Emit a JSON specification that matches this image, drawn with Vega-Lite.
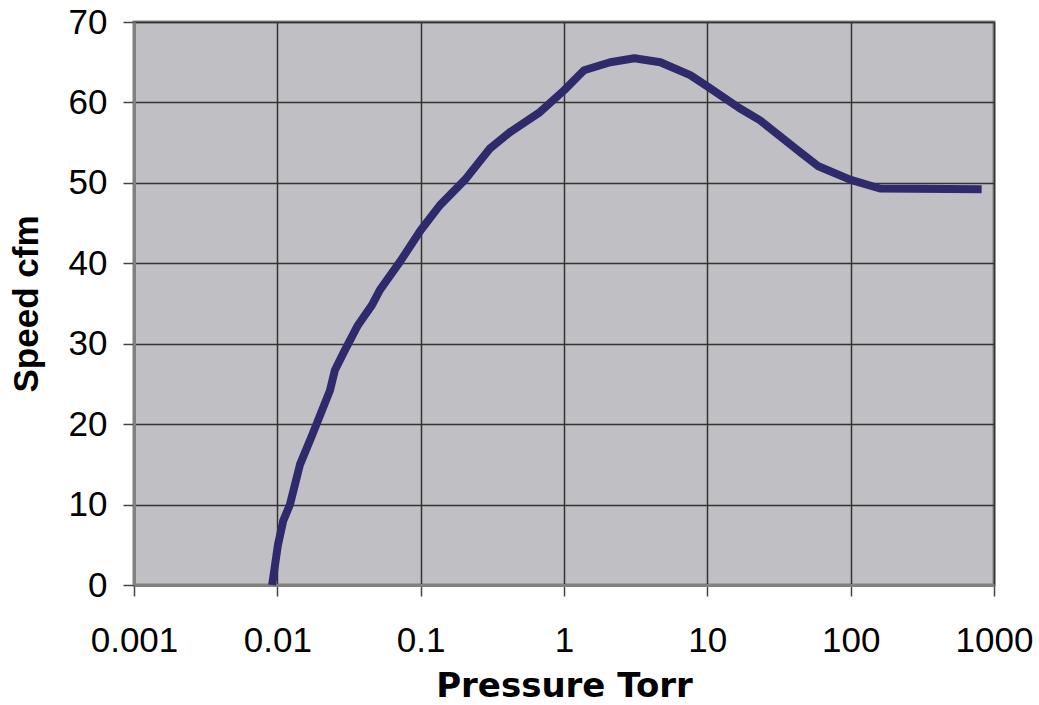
{
  "$schema": "https://vega.github.io/schema/vega-lite/v6.json",
  "autosize": {"type": "none"},
  "width": 860,
  "height": 563,
  "padding": {"left": 134, "top": 22, "right": 45, "bottom": 120},
  "background": "white",
  "config": {
    "view": {"fill": "#c0c0c4", "stroke": "#808080", "strokeWidth": 3},
    "font": "Liberation Sans"
  },
  "data": {
    "values": [
      {"p": 0.0092, "s": 0},
      {"p": 0.0101, "s": 5},
      {"p": 0.011, "s": 8},
      {"p": 0.01225, "s": 10},
      {"p": 0.0144, "s": 15},
      {"p": 0.01745, "s": 18.6},
      {"p": 0.0233, "s": 24.2},
      {"p": 0.0252, "s": 26.7},
      {"p": 0.0296, "s": 29.2},
      {"p": 0.0365, "s": 32.3},
      {"p": 0.0457, "s": 34.8},
      {"p": 0.052, "s": 36.7},
      {"p": 0.0718, "s": 40.2},
      {"p": 0.1, "s": 44.1},
      {"p": 0.136, "s": 47.2},
      {"p": 0.204, "s": 50.4},
      {"p": 0.305, "s": 54.3},
      {"p": 0.42, "s": 56.3},
      {"p": 0.68, "s": 58.8},
      {"p": 1.0, "s": 61.5},
      {"p": 1.38, "s": 64.0},
      {"p": 2.1, "s": 65.0},
      {"p": 3.1, "s": 65.5},
      {"p": 4.7, "s": 65.0},
      {"p": 7.6, "s": 63.4},
      {"p": 10, "s": 62.0},
      {"p": 16.7, "s": 59.3},
      {"p": 23.2, "s": 57.8},
      {"p": 44.6, "s": 53.8},
      {"p": 59, "s": 52.1},
      {"p": 99, "s": 50.4},
      {"p": 160, "s": 49.3},
      {"p": 820, "s": 49.2}
    ]
  },
  "mark": {"type": "line", "color": "#2e2a6b", "strokeWidth": 8, "strokeJoin": "round"},
  "encoding": {
    "x": {
      "field": "p", "type": "quantitative",
      "scale": {"type": "log", "domain": [0.001, 1000], "nice": false},
      "axis": {
        "title": "Pressure Torr",
        "values": [0.001, 0.01, 0.1, 1, 10, 100, 1000],
        "format": "~g",
        "labelFlush": false, "labelOverlap": false,
        "labelFontSize": 35, "labelColor": "#000", "labelPadding": 27,
        "tickSize": 11, "tickColor": "#444", "tickWidth": 1.5,
        "domainColor": "#808080", "domainWidth": 3,
        "grid": true, "gridColor": "#333", "gridWidth": 1.5,
        "titleFont": "DejaVu Sans", "titleFontSize": 34, "titleFontWeight": "bold", "titleColor": "#000", "titlePadding": 11
      }
    },
    "y": {
      "field": "s", "type": "quantitative",
      "scale": {"domain": [0, 70], "nice": false},
      "axis": {
        "title": "Speed cfm",
        "values": [0, 10, 20, 30, 40, 50, 60, 70],
        "labelFlush": false, "labelOverlap": false,
        "labelFontSize": 35, "labelColor": "#000", "labelPadding": 16,
        "tickSize": 11, "tickColor": "#444", "tickWidth": 1.5,
        "domainColor": "#808080", "domainWidth": 3,
        "grid": true, "gridColor": "#333", "gridWidth": 1.5,
        "titleFontSize": 35, "titleFontWeight": "bold", "titleColor": "#000", "titlePadding": 24
      }
    }
  }
}
